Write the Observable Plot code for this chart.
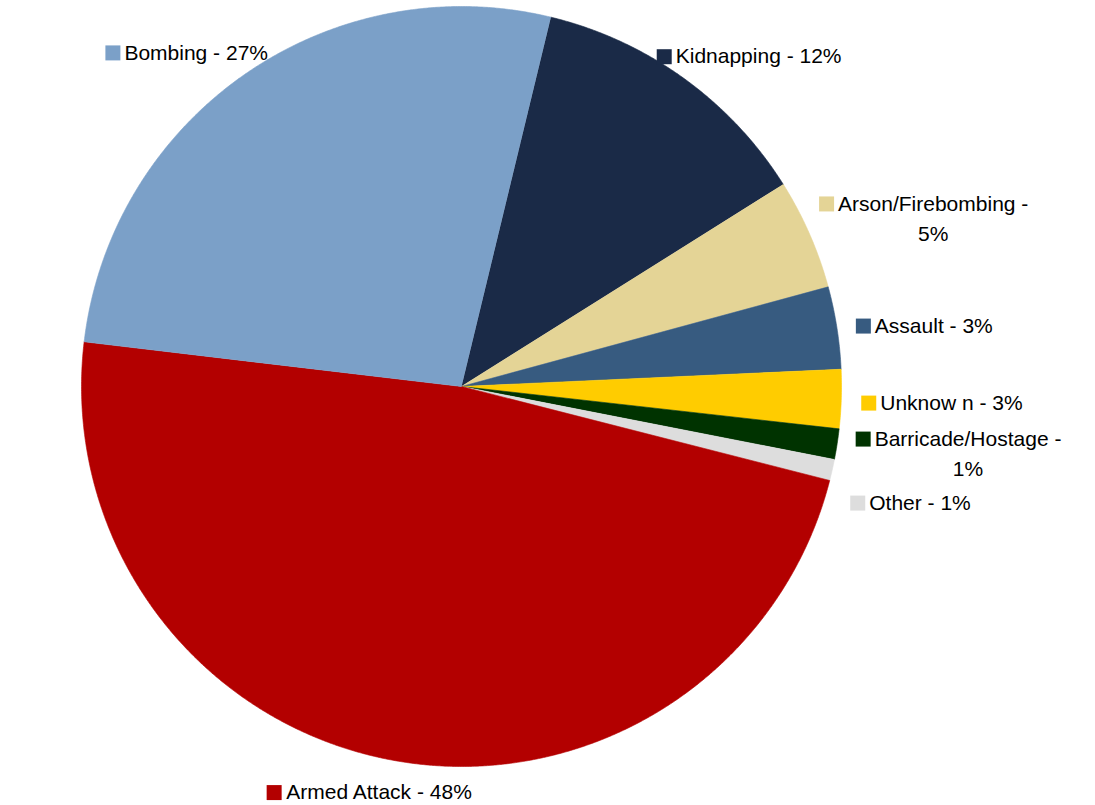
<!DOCTYPE html>
<html><head><meta charset="utf-8">
<script src="https://cdn.jsdelivr.net/npm/d3@7"></script>
<script src="https://cdn.jsdelivr.net/npm/@observablehq/plot@0.6"></script>
<style>html,body{margin:0;padding:0;background:#fff}</style>
</head><body><div id="chart"></div>
<script>
// ---- data ----
const categories = ["Kidnapping","Arson/Firebombing","Assault","Unknow n","Barricade/Hostage","Other","Armed Attack","Bombing"];
const percents   = [12.3, 4.7, 3.5, 2.5, 1.3, 0.9, 47.9, 26.9];
const labels     = ["Kidnapping - 12%","Arson/Firebombing -\n5%","Assault - 3%","Unknow n - 3%","Barricade/Hostage -\n1%","Other - 1%","Armed Attack - 48%","Bombing - 27%"];
const colors     = ["#1a2a47","#e4d496","#375b80","#ffcc00","#003300","#dddddd","#b30000","#7ba0c8"];

// ---- layout ----
const W = 1095, H = 805, CX = 461, CY = 386, R = 380, START_DEG = 13.6;
const FONT = 21, LH = 30, SQ = 15, GAP = 4, LABEL_R = 400, PAD = 14;

const a0 = START_DEG * Math.PI / 180;
const pie = d3.pie().sort(null).value(d => d).startAngle(a0).endAngle(a0 + 2 * Math.PI);
const arcs = pie(percents);

const slicePts = [];
arcs.forEach((a, i) => {
  const name = categories[i];
  slicePts.push({name, x: 0, y: 0});
  const n = Math.max(2, Math.ceil((a.endAngle - a.startAngle) / (0.25 * Math.PI / 180)));
  for (let k = 0; k <= n; k++) {
    const t = a.startAngle + (a.endAngle - a.startAngle) * k / n;
    slicePts.push({name, x: Math.sin(t), y: Math.cos(t)});
  }
});

// label boxes placed just outside each slice's mid-angle
const ctx = document.createElement("canvas").getContext("2d");
ctx.font = `${FONT}px "Liberation Sans"`;
const boxes = arcs.map((a, i) => {
  const lines = labels[i].split("\n");
  const tw = Math.max(...lines.map(l => ctx.measureText(l).width));
  const w = SQ + GAP + tw, h = 20 + (lines.length - 1) * LH;
  const m = (a.startAngle + a.endAngle) / 2, s = Math.sin(m), c = Math.cos(m);
  return {i, lines, tw, w, h, s, bx: CX + LABEL_R * s + (w / 2) * s, by: CY - LABEL_R * c - (h / 2) * c};
});
// simple vertical de-overlap for right-hand labels (in angle order, pushing down)
const right = boxes.filter(b => b.s > 0);
for (let k = 1; k < right.length; k++) {
  const p = right[k - 1], b = right[k];
  const minY = p.by + p.h / 2 + PAD + b.h / 2;
  if (b.by < minY) b.by = minY;
}
const labelRows = boxes.map(b => {
  const left = b.bx - b.w / 2;
  const firstY = b.by - (b.lines.length - 1) * LH / 2;
  return {
    name: categories[b.i], label: labels[b.i],
    tx: (left + SQ + GAP + b.tw / 2 - CX) / R, ty: -(b.by - CY) / R,
    sx: (left + SQ / 2 - CX) / R, sy: -(firstY + 3 - CY) / R
  };
});

const chart = Plot.plot({
  width: W, height: H,
  margin: 0,
  x: {domain: [-1, 1], range: [CX - R, CX + R], axis: null},
  y: {domain: [-1, 1], range: [CY + R, CY - R], axis: null},
  color: {domain: categories, range: colors},
  style: {background: "#fff", fontFamily: "Liberation Sans, Arial, sans-serif"},
  marks: [
    Plot.line(slicePts, {x: "x", y: "y", z: "name", fill: "name", stroke: "name", strokeWidth: 0.6}),
    Plot.dot(labelRows, {x: "sx", y: "sy", symbol: "square", r: SQ / Math.sqrt(Math.PI), fill: "name", stroke: null}),
    Plot.text(labelRows, {x: "tx", y: "ty", text: "label", textAnchor: "middle", lineHeight: LH / FONT, fontSize: FONT, fill: "#000"})
  ]
});
document.getElementById("chart").appendChild(chart);
</script>
</body></html>
